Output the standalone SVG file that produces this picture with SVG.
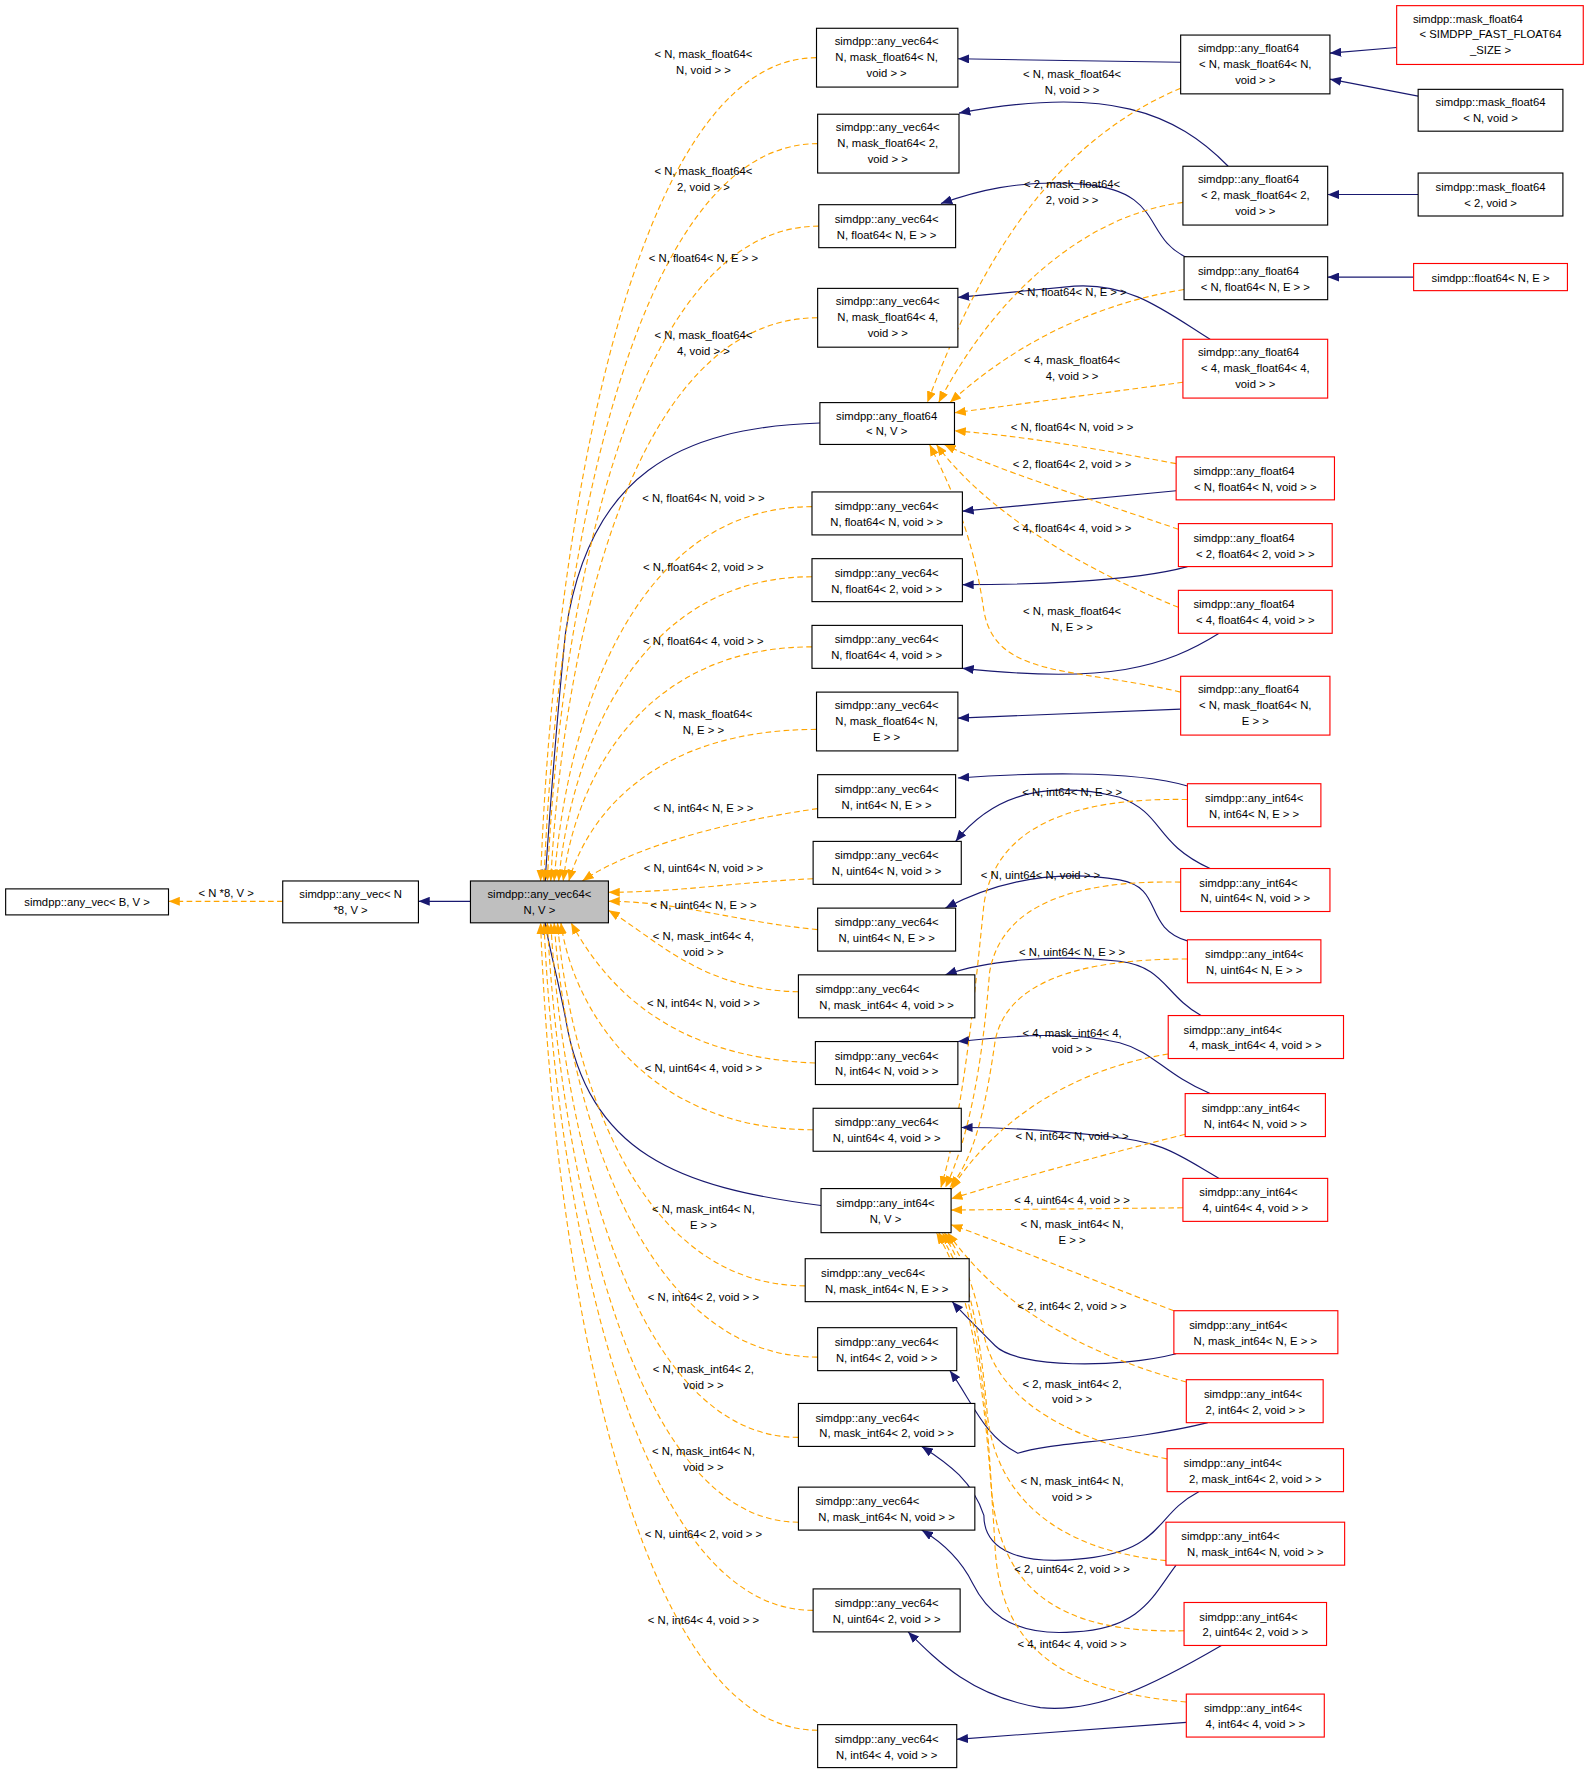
<svg xmlns="http://www.w3.org/2000/svg" width="1589" height="1772" viewBox="0 0 1589 1772">
<defs>
<style>
text{font-family:"Liberation Sans",Arial,sans-serif;font-size:10px;text-anchor:middle;fill:#000}
.n rect{fill:#fff;stroke:#000;stroke-width:1}
.r rect{fill:#fff;stroke:#f00;stroke-width:1}
.g rect{fill:#bfbfbf;stroke:#000;stroke-width:1}
.b{fill:none;stroke:#191970;stroke-width:1}
.o{fill:none;stroke:#ffa500;stroke-width:1;stroke-dasharray:5,3}
</style>
<marker id="ab" markerWidth="10" markerHeight="8" refX="10" refY="4" orient="auto" markerUnits="userSpaceOnUse"><path d="M0,0L10,4L0,8z" fill="#191970"/></marker>
<marker id="ao" markerWidth="10" markerHeight="8" refX="10" refY="4" orient="auto" markerUnits="userSpaceOnUse"><path d="M0,0L10,4L0,8z" fill="#ffa500"/></marker>
</defs>
<rect width="1589" height="1772" fill="#fff"/>
<g transform="scale(1.1309)">
<g id="edges">
<path class="o" marker-end="url(#ao)" d="M250,797L149,797"/>
<path class="b" marker-end="url(#ab)" d="M416,797L370,797"/>
<path class="b" marker-end="url(#ab)" d="M725,374C600,378 520,420 500,560C492,640 486,720 482,779"/>
<path class="b" marker-end="url(#ab)" d="M726,1066C600,1050 520,1020 500,900C492,860 486,840 482,816"/>
<path class="b" marker-end="url(#ab)" d="M1044,55L847,52"/>
<path class="b" marker-end="url(#ab)" d="M1235,42L1176,47"/>
<path class="b" marker-end="url(#ab)" d="M1254,85L1176,70"/>
<path class="b" marker-end="url(#ab)" d="M1086,147C1040,100 980,75 848,100"/>
<path class="b" marker-end="url(#ab)" d="M1254,172L1174,172"/>
<path class="b" marker-end="url(#ab)" d="M1050,228C1010,210 1030,170 960,163C900,158 860,170 832,180"/>
<path class="b" marker-end="url(#ab)" d="M1250,245L1174,245"/>
<path class="b" marker-end="url(#ab)" d="M1070,300C1030,275 1000,250 950,253L847,263"/>
<path class="b" marker-end="url(#ab)" d="M1040,434L851,452"/>
<path class="b" marker-end="url(#ab)" d="M1050,501C1000,515 900,517 851,517"/>
<path class="b" marker-end="url(#ab)" d="M1078,560C1030,590 980,605 851,591"/>
<path class="b" marker-end="url(#ab)" d="M1044,627L847,635"/>
<path class="b" marker-end="url(#ab)" d="M1050,695C1000,680 900,684 847,688"/>
<path class="b" marker-end="url(#ab)" d="M1070,768C1020,745 1030,720 990,705C930,690 880,700 845,744"/>
<path class="b" marker-end="url(#ab)" d="M1050,832C1010,820 1030,785 990,778C930,768 880,780 836,803"/>
<path class="b" marker-end="url(#ab)" d="M1062,898C1030,880 1030,855 990,850C930,843 870,850 836,862"/>
<path class="b" marker-end="url(#ab)" d="M1070,967C1030,950 1020,930 990,922C940,910 880,918 847,921"/>
<path class="b" marker-end="url(#ab)" d="M1078,1042C1040,1020 1030,1010 980,1005C920,998 880,997 850,997"/>
<path class="b" marker-end="url(#ab)" d="M1040,1197C990,1210 900,1210 880,1190C860,1170 850,1160 842,1151"/>
<path class="b" marker-end="url(#ab)" d="M1068,1258C1000,1275 930,1275 900,1285C870,1270 860,1240 840,1212"/>
<path class="b" marker-end="url(#ab)" d="M1060,1319C1020,1340 1030,1370 960,1378C900,1385 870,1370 870,1340C860,1310 840,1295 815,1279"/>
<path class="b" marker-end="url(#ab)" d="M1040,1384C1020,1410 1010,1440 950,1443C890,1448 870,1420 860,1400C850,1380 835,1365 815,1353"/>
<path class="b" marker-end="url(#ab)" d="M1080,1455C1020,1490 970,1515 920,1510C860,1500 830,1470 803,1443"/>
<path class="b" marker-end="url(#ab)" d="M1049,1523L846,1538"/>
<!-- orange to C -->
<path class="o" marker-end="url(#ao)" d="M722,51C555,51 488,488 478,779"/>
<path class="o" marker-end="url(#ao)" d="M723,127C555,127 491,518 481,779"/>
<path class="o" marker-end="url(#ao)" d="M724,200C555,200 494,547 484,779"/>
<path class="o" marker-end="url(#ao)" d="M723,281C555,281 497,580 487,779"/>
<path class="o" marker-end="url(#ao)" d="M718,448C555,448 500,646 490,779"/>
<path class="o" marker-end="url(#ao)" d="M718,510C560,510 504,670 494,779"/>
<path class="o" marker-end="url(#ao)" d="M718,572C565,572 508,694 498,779"/>
<path class="o" marker-end="url(#ao)" d="M722,645C580,645 520,720 503,779"/>
<path class="o" marker-end="url(#ao)" d="M723,715C620,730 550,755 515,779"/>
<path class="o" marker-end="url(#ao)" d="M719,777C650,780 600,789 538,789"/>
<path class="o" marker-end="url(#ao)" d="M723,822C650,815 600,797 538,797"/>
<path class="o" marker-end="url(#ao)" d="M706,877C620,875 580,830 538,805"/>
<path class="o" marker-end="url(#ao)" d="M721,940C600,935 540,880 505,816"/>
<path class="o" marker-end="url(#ao)" d="M719,999C570,999 506,890 496,816"/>
<path class="o" marker-end="url(#ao)" d="M712,1137C560,1137 503,940 493,816"/>
<path class="o" marker-end="url(#ao)" d="M723,1200C560,1200 500,960 490,816"/>
<path class="o" marker-end="url(#ao)" d="M706,1271C555,1271 497,990 487,816"/>
<path class="o" marker-end="url(#ao)" d="M706,1346C555,1346 494,1020 484,816"/>
<path class="o" marker-end="url(#ao)" d="M719,1424C555,1424 491,1050 481,816"/>
<path class="o" marker-end="url(#ao)" d="M723,1530C555,1530 488,1100 478,816"/>
<!-- orange to F64 -->
<path class="o" marker-end="url(#ao)" d="M1044,78C920,130 860,250 820,356"/>
<path class="o" marker-end="url(#ao)" d="M1046,179C960,190 880,260 830,356"/>
<path class="o" marker-end="url(#ao)" d="M1047,256C960,270 890,310 840,356"/>
<path class="o" marker-end="url(#ao)" d="M1046,338L844,365"/>
<path class="o" marker-end="url(#ao)" d="M1040,410C960,395 900,385 844,381"/>
<path class="o" marker-end="url(#ao)" d="M1042,468C960,440 880,415 835,393"/>
<path class="o" marker-end="url(#ao)" d="M1042,537C950,500 870,450 828,393"/>
<path class="o" marker-end="url(#ao)" d="M1044,612C950,590 880,600 870,540C860,470 840,430 822,393"/>
<!-- orange to I64 -->
<path class="o" marker-end="url(#ao)" d="M1050,707C950,705 880,730 870,800C860,900 850,990 832,1050"/>
<path class="o" marker-end="url(#ao)" d="M1044,780C950,778 885,800 875,860C868,950 855,1010 836,1050"/>
<path class="o" marker-end="url(#ao)" d="M1050,848C950,848 890,870 880,920C870,990 860,1025 840,1050"/>
<path class="o" marker-end="url(#ao)" d="M1033,932C950,945 880,990 841,1052"/>
<path class="o" marker-end="url(#ao)" d="M1048,1003C960,1025 890,1045 841,1060"/>
<path class="o" marker-end="url(#ao)" d="M1046,1068L841,1070"/>
<path class="o" marker-end="url(#ao)" d="M1038,1159C960,1130 890,1100 841,1083"/>
<path class="o" marker-end="url(#ao)" d="M1049,1222C950,1195 880,1150 838,1090"/>
<path class="o" marker-end="url(#ao)" d="M1032,1290C930,1270 880,1230 870,1180C862,1140 852,1110 835,1090"/>
<path class="o" marker-end="url(#ao)" d="M1031,1380C930,1370 880,1320 873,1250C866,1170 855,1120 833,1090"/>
<path class="o" marker-end="url(#ao)" d="M1047,1442C930,1445 885,1400 877,1320C870,1200 858,1130 830,1090"/>
<path class="o" marker-end="url(#ao)" d="M1049,1505C930,1495 885,1450 880,1370C872,1230 860,1140 828,1090"/>
</g>
<g id="labels">
<text x="200" y="793">&lt; N *8, V &gt;</text>
<text x="622" y="51">&lt; N, mask_float64&lt;</text><text x="622" y="65">N, void &gt; &gt;</text>
<text x="622" y="155">&lt; N, mask_float64&lt;</text><text x="622" y="169">2, void &gt; &gt;</text>
<text x="622" y="232">&lt; N, float64&lt; N, E &gt; &gt;</text>
<text x="622" y="300">&lt; N, mask_float64&lt;</text><text x="622" y="314">4, void &gt; &gt;</text>
<text x="622" y="444">&lt; N, float64&lt; N, void &gt; &gt;</text>
<text x="622" y="505">&lt; N, float64&lt; 2, void &gt; &gt;</text>
<text x="622" y="570">&lt; N, float64&lt; 4, void &gt; &gt;</text>
<text x="622" y="635">&lt; N, mask_float64&lt;</text><text x="622" y="649">N, E &gt; &gt;</text>
<text x="622" y="718">&lt; N, int64&lt; N, E &gt; &gt;</text>
<text x="622" y="771">&lt; N, uint64&lt; N, void &gt; &gt;</text>
<text x="622" y="804">&lt; N, uint64&lt; N, E &gt; &gt;</text>
<text x="622" y="831">&lt; N, mask_int64&lt; 4,</text><text x="622" y="845">void &gt; &gt;</text>
<text x="622" y="890">&lt; N, int64&lt; N, void &gt; &gt;</text>
<text x="622" y="948">&lt; N, uint64&lt; 4, void &gt; &gt;</text>
<text x="622" y="1073">&lt; N, mask_int64&lt; N,</text><text x="622" y="1087">E &gt; &gt;</text>
<text x="622" y="1150">&lt; N, int64&lt; 2, void &gt; &gt;</text>
<text x="622" y="1214">&lt; N, mask_int64&lt; 2,</text><text x="622" y="1228">void &gt; &gt;</text>
<text x="622" y="1287">&lt; N, mask_int64&lt; N,</text><text x="622" y="1301">void &gt; &gt;</text>
<text x="622" y="1360">&lt; N, uint64&lt; 2, void &gt; &gt;</text>
<text x="622" y="1436">&lt; N, int64&lt; 4, void &gt; &gt;</text>
<text x="948" y="69">&lt; N, mask_float64&lt;</text><text x="948" y="83">N, void &gt; &gt;</text>
<text x="948" y="166">&lt; 2, mask_float64&lt;</text><text x="948" y="180">2, void &gt; &gt;</text>
<text x="948" y="262">&lt; N, float64&lt; N, E &gt; &gt;</text>
<text x="948" y="322">&lt; 4, mask_float64&lt;</text><text x="948" y="336">4, void &gt; &gt;</text>
<text x="948" y="381">&lt; N, float64&lt; N, void &gt; &gt;</text>
<text x="948" y="414">&lt; 2, float64&lt; 2, void &gt; &gt;</text>
<text x="948" y="470">&lt; 4, float64&lt; 4, void &gt; &gt;</text>
<text x="948" y="544">&lt; N, mask_float64&lt;</text><text x="948" y="558">N, E &gt; &gt;</text>
<text x="948" y="704">&lt; N, int64&lt; N, E &gt; &gt;</text>
<text x="920" y="777">&lt; N, uint64&lt; N, void &gt; &gt;</text>
<text x="948" y="845">&lt; N, uint64&lt; N, E &gt; &gt;</text>
<text x="948" y="917">&lt; 4, mask_int64&lt; 4,</text><text x="948" y="931">void &gt; &gt;</text>
<text x="948" y="1008">&lt; N, int64&lt; N, void &gt; &gt;</text>
<text x="948" y="1065">&lt; 4, uint64&lt; 4, void &gt; &gt;</text>
<text x="948" y="1086">&lt; N, mask_int64&lt; N,</text><text x="948" y="1100">E &gt; &gt;</text>
<text x="948" y="1158">&lt; 2, int64&lt; 2, void &gt; &gt;</text>
<text x="948" y="1227">&lt; 2, mask_int64&lt; 2,</text><text x="948" y="1241">void &gt; &gt;</text>
<text x="948" y="1313">&lt; N, mask_int64&lt; N,</text><text x="948" y="1327">void &gt; &gt;</text>
<text x="948" y="1391">&lt; 2, uint64&lt; 2, void &gt; &gt;</text>
<text x="948" y="1457">&lt; 4, int64&lt; 4, void &gt; &gt;</text>
</g>
<g id="nA" class="n"><rect x="5" y="786" width="144" height="23"/><text x="77" y="801">simdpp::any_vec&lt; B, V &gt;</text></g>
<g id="nB" class="n"><rect x="250" y="779" width="120" height="37"/><text x="310" y="794">simdpp::any_vec&lt; N</text><text x="310" y="808">*8, V &gt;</text></g>
<g id="nC" class="g"><rect x="416" y="779" width="122" height="37"/><text x="477" y="794">simdpp::any_vec64&lt;</text><text x="477" y="808">N, V &gt;</text></g>
<g id="v1" class="n"><rect x="722" y="25" width="125" height="52"/><text x="784" y="40">simdpp::any_vec64&lt;</text><text x="784" y="54">N, mask_float64&lt; N,</text><text x="784" y="68">void &gt; &gt;</text></g>
<g id="v2" class="n"><rect x="723" y="101" width="125" height="52"/><text x="785" y="116">simdpp::any_vec64&lt;</text><text x="785" y="130">N, mask_float64&lt; 2,</text><text x="785" y="144">void &gt; &gt;</text></g>
<g id="v3" class="n"><rect x="724" y="181" width="121" height="38"/><text x="784" y="197">simdpp::any_vec64&lt;</text><text x="784" y="211">N, float64&lt; N, E &gt; &gt;</text></g>
<g id="v4" class="n"><rect x="723" y="255" width="124" height="52"/><text x="785" y="270">simdpp::any_vec64&lt;</text><text x="785" y="284">N, mask_float64&lt; 4,</text><text x="785" y="298">void &gt; &gt;</text></g>
<g id="f64" class="n"><rect x="725" y="356" width="119" height="37"/><text x="784" y="371">simdpp::any_float64</text><text x="784" y="385">&lt; N, V &gt;</text></g>
<g id="v5" class="n"><rect x="718" y="435" width="133" height="38"/><text x="784" y="451">simdpp::any_vec64&lt;</text><text x="784" y="465">N, float64&lt; N, void &gt; &gt;</text></g>
<g id="v6" class="n"><rect x="718" y="494" width="133" height="38"/><text x="784" y="510">simdpp::any_vec64&lt;</text><text x="784" y="524">N, float64&lt; 2, void &gt; &gt;</text></g>
<g id="v7" class="n"><rect x="718" y="553" width="133" height="38"/><text x="784" y="569">simdpp::any_vec64&lt;</text><text x="784" y="583">N, float64&lt; 4, void &gt; &gt;</text></g>
<g id="v8" class="n"><rect x="722" y="612" width="125" height="52"/><text x="784" y="627">simdpp::any_vec64&lt;</text><text x="784" y="641">N, mask_float64&lt; N,</text><text x="784" y="655">E &gt; &gt;</text></g>
<g id="v9" class="n"><rect x="723" y="685" width="122" height="38"/><text x="784" y="701">simdpp::any_vec64&lt;</text><text x="784" y="715">N, int64&lt; N, E &gt; &gt;</text></g>
<g id="v10" class="n"><rect x="719" y="744" width="131" height="38"/><text x="784" y="760">simdpp::any_vec64&lt;</text><text x="784" y="774">N, uint64&lt; N, void &gt; &gt;</text></g>
<g id="v11" class="n"><rect x="723" y="803" width="122" height="38"/><text x="784" y="819">simdpp::any_vec64&lt;</text><text x="784" y="833">N, uint64&lt; N, E &gt; &gt;</text></g>
<g id="v12" class="n"><rect x="706" y="862" width="156" height="38"/><text x="767" y="878">simdpp::any_vec64&lt;</text><text x="784" y="892">N, mask_int64&lt; 4, void &gt; &gt;</text></g>
<g id="v13" class="n"><rect x="721" y="921" width="126" height="38"/><text x="784" y="937">simdpp::any_vec64&lt;</text><text x="784" y="951">N, int64&lt; N, void &gt; &gt;</text></g>
<g id="v14" class="n"><rect x="719" y="980" width="131" height="38"/><text x="784" y="996">simdpp::any_vec64&lt;</text><text x="784" y="1010">N, uint64&lt; 4, void &gt; &gt;</text></g>
<g id="i64" class="n"><rect x="726" y="1051" width="115" height="39"/><text x="783" y="1067">simdpp::any_int64&lt;</text><text x="783" y="1081">N, V &gt;</text></g>
<g id="v15" class="n"><rect x="712" y="1113" width="145" height="38"/><text x="772" y="1129">simdpp::any_vec64&lt;</text><text x="784" y="1143">N, mask_int64&lt; N, E &gt; &gt;</text></g>
<g id="v16" class="n"><rect x="723" y="1174" width="123" height="38"/><text x="784" y="1190">simdpp::any_vec64&lt;</text><text x="784" y="1204">N, int64&lt; 2, void &gt; &gt;</text></g>
<g id="v17" class="n"><rect x="706" y="1241" width="156" height="38"/><text x="767" y="1257">simdpp::any_vec64&lt;</text><text x="784" y="1271">N, mask_int64&lt; 2, void &gt; &gt;</text></g>
<g id="v18" class="n"><rect x="706" y="1315" width="156" height="38"/><text x="767" y="1331">simdpp::any_vec64&lt;</text><text x="784" y="1345">N, mask_int64&lt; N, void &gt; &gt;</text></g>
<g id="v19" class="n"><rect x="719" y="1405" width="130" height="38"/><text x="784" y="1421">simdpp::any_vec64&lt;</text><text x="784" y="1435">N, uint64&lt; 2, void &gt; &gt;</text></g>
<g id="v20" class="n"><rect x="723" y="1525" width="123" height="38"/><text x="784" y="1541">simdpp::any_vec64&lt;</text><text x="784" y="1555">N, int64&lt; 4, void &gt; &gt;</text></g>
<g id="r1" class="n"><rect x="1044" y="31" width="132" height="52"/><text x="1104" y="46">simdpp::any_float64</text><text x="1110" y="60">&lt; N, mask_float64&lt; N,</text><text x="1110" y="74">void &gt; &gt;</text></g>
<g id="r2" class="n"><rect x="1046" y="147" width="128" height="52"/><text x="1104" y="162">simdpp::any_float64</text><text x="1110" y="176">&lt; 2, mask_float64&lt; 2,</text><text x="1110" y="190">void &gt; &gt;</text></g>
<g id="r3" class="n"><rect x="1047" y="227" width="127" height="38"/><text x="1104" y="243">simdpp::any_float64</text><text x="1110" y="257">&lt; N, float64&lt; N, E &gt; &gt;</text></g>
<g id="r4" class="r"><rect x="1046" y="300" width="128" height="52"/><text x="1104" y="315">simdpp::any_float64</text><text x="1110" y="329">&lt; 4, mask_float64&lt; 4,</text><text x="1110" y="343">void &gt; &gt;</text></g>
<g id="r5" class="r"><rect x="1040" y="404" width="140" height="38"/><text x="1100" y="420">simdpp::any_float64</text><text x="1110" y="434">&lt; N, float64&lt; N, void &gt; &gt;</text></g>
<g id="r6" class="r"><rect x="1042" y="463" width="136" height="38"/><text x="1100" y="479">simdpp::any_float64</text><text x="1110" y="493">&lt; 2, float64&lt; 2, void &gt; &gt;</text></g>
<g id="r7" class="r"><rect x="1042" y="522" width="136" height="38"/><text x="1100" y="538">simdpp::any_float64</text><text x="1110" y="552">&lt; 4, float64&lt; 4, void &gt; &gt;</text></g>
<g id="r8" class="r"><rect x="1044" y="598" width="132" height="52"/><text x="1104" y="613">simdpp::any_float64</text><text x="1110" y="627">&lt; N, mask_float64&lt; N,</text><text x="1110" y="641">E &gt; &gt;</text></g>
<g id="fr1" class="r"><rect x="1235" y="5" width="165" height="52"/><text x="1298" y="20">simdpp::mask_float64</text><text x="1318" y="34">&lt; SIMDPP_FAST_FLOAT64</text><text x="1318" y="48">_SIZE &gt;</text></g>
<g id="fr2" class="n"><rect x="1254" y="79" width="128" height="37"/><text x="1318" y="94">simdpp::mask_float64</text><text x="1318" y="108">&lt; N, void &gt;</text></g>
<g id="fr3" class="n"><rect x="1254" y="153" width="128" height="38"/><text x="1318" y="169">simdpp::mask_float64</text><text x="1318" y="183">&lt; 2, void &gt;</text></g>
<g id="fr4" class="r"><rect x="1250" y="233" width="136" height="24"/><text x="1318" y="249">simdpp::float64&lt; N, E &gt;</text></g>
<g id="i1" class="r"><rect x="1050" y="693" width="118" height="38"/><text x="1109" y="709">simdpp::any_int64&lt;</text><text x="1109" y="723">N, int64&lt; N, E &gt; &gt;</text></g>
<g id="i2" class="r"><rect x="1044" y="768" width="132" height="38"/><text x="1104" y="784">simdpp::any_int64&lt;</text><text x="1110" y="798">N, uint64&lt; N, void &gt; &gt;</text></g>
<g id="i3" class="r"><rect x="1050" y="831" width="118" height="38"/><text x="1109" y="847">simdpp::any_int64&lt;</text><text x="1109" y="861">N, uint64&lt; N, E &gt; &gt;</text></g>
<g id="i4" class="r"><rect x="1033" y="898" width="155" height="38"/><text x="1090" y="914">simdpp::any_int64&lt;</text><text x="1110" y="928">4, mask_int64&lt; 4, void &gt; &gt;</text></g>
<g id="i5" class="r"><rect x="1048" y="967" width="124" height="38"/><text x="1106" y="983">simdpp::any_int64&lt;</text><text x="1110" y="997">N, int64&lt; N, void &gt; &gt;</text></g>
<g id="i6" class="r"><rect x="1046" y="1042" width="128" height="38"/><text x="1104" y="1058">simdpp::any_int64&lt;</text><text x="1110" y="1072">4, uint64&lt; 4, void &gt; &gt;</text></g>
<g id="i7" class="r"><rect x="1038" y="1159" width="145" height="38"/><text x="1095" y="1175">simdpp::any_int64&lt;</text><text x="1110" y="1189">N, mask_int64&lt; N, E &gt; &gt;</text></g>
<g id="i8" class="r"><rect x="1049" y="1220" width="121" height="38"/><text x="1108" y="1236">simdpp::any_int64&lt;</text><text x="1110" y="1250">2, int64&lt; 2, void &gt; &gt;</text></g>
<g id="i9" class="r"><rect x="1032" y="1281" width="156" height="38"/><text x="1090" y="1297">simdpp::any_int64&lt;</text><text x="1110" y="1311">2, mask_int64&lt; 2, void &gt; &gt;</text></g>
<g id="i10" class="r"><rect x="1031" y="1346" width="158" height="38"/><text x="1088" y="1362">simdpp::any_int64&lt;</text><text x="1110" y="1376">N, mask_int64&lt; N, void &gt; &gt;</text></g>
<g id="i11" class="r"><rect x="1047" y="1417" width="126" height="38"/><text x="1104" y="1433">simdpp::any_int64&lt;</text><text x="1110" y="1447">2, uint64&lt; 2, void &gt; &gt;</text></g>
<g id="i12" class="r"><rect x="1049" y="1498" width="122" height="38"/><text x="1108" y="1514">simdpp::any_int64&lt;</text><text x="1110" y="1528">4, int64&lt; 4, void &gt; &gt;</text></g>
</g>
</svg>
